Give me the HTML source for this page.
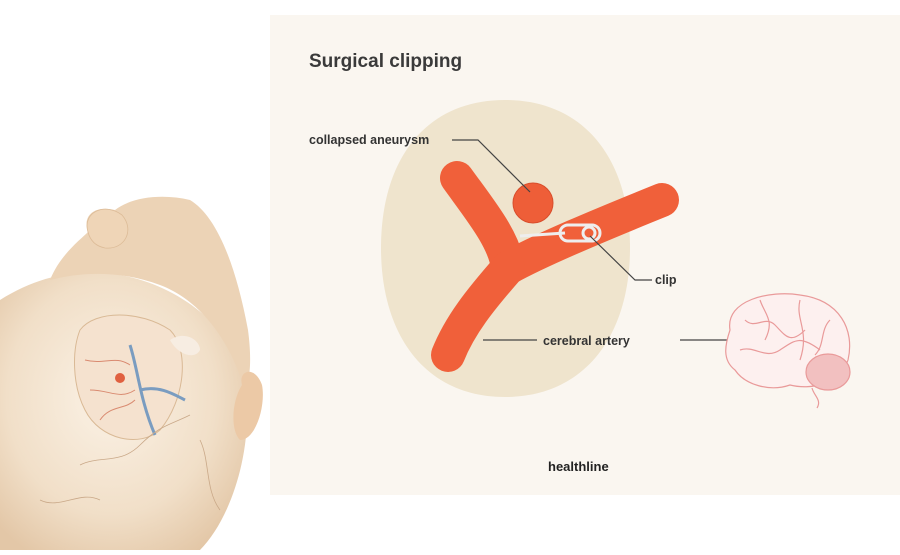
<!DOCTYPE html>
<html><head><style>
body{margin:0;width:900px;height:550px;background:#fff;overflow:hidden;font-family:"Liberation Sans",sans-serif}
</style></head><body>
<svg width="900" height="550" viewBox="0 0 900 550" xmlns="http://www.w3.org/2000/svg">
<defs>
<radialGradient id="sk" cx="0.45" cy="0.45" r="0.65"><stop offset="0" stop-color="#fbf2e6"/><stop offset="0.65" stop-color="#f1dfc8"/><stop offset="1" stop-color="#e3c7a7"/></radialGradient>
</defs>
<rect x="270" y="15" width="630" height="480" fill="#faf6f0"/>
<text x="309" y="67" font-size="19" font-weight="bold" fill="#3a3a3a">Surgical clipping</text>
<path d="M505 100 C585 100 630 160 630 248 C630 335 585 397 505 397 C425 397 381 335 381 248 C381 160 425 100 505 100Z" fill="#efe4cd"/>
<g stroke="#f0603a" stroke-width="34" stroke-linecap="round" fill="none">
<path d="M457 178 C480 210 505 240 508 268"/>
<path d="M662 200 C600 225 540 250 508 268"/>
<path d="M508 268 C480 300 460 325 448 355"/>
</g>
<circle cx="533" cy="203" r="20" fill="#ee5e38" stroke="#d84e2c" stroke-width="1"/>
<g stroke="#eee" stroke-width="3" fill="none">
<line x1="520" y1="236" x2="565" y2="233"/>
<rect x="560" y="225" width="40" height="16" rx="8"/>
<circle cx="589" cy="233" r="6"/>
</g>
<g stroke="#444" stroke-width="1.2" fill="none">
<polyline points="452,140 478,140 530,192"/>
<polyline points="590,236 635,280 652,280"/>
<line x1="483" y1="340" x2="537" y2="340"/>
<line x1="680" y1="340" x2="760" y2="340"/>
</g>
<g font-size="12.5" font-weight="bold" fill="#333">
<text x="309" y="144">collapsed aneurysm</text>
<text x="655" y="284">clip</text>
<text x="543" y="345">cerebral artery</text>
</g>
<text x="548" y="471" font-size="13" font-weight="bold" fill="#222">healthline</text>
<g fill="none" stroke="#e99a9a" stroke-width="1.2">
<path d="M730 330 C725 300 770 290 800 295 C840 300 855 330 848 360 C840 385 810 390 790 385 C770 392 745 385 735 370 C722 360 725 345 730 330Z" fill="#fdf0ef"/>
<path d="M745 320 c10 10 20-5 30 5 s15 20 30 5 M740 350 c15-5 25 10 40 0 s20-15 40 0 M760 300 c5 15 15 20 5 40 M800 300 c-5 20 10 30 0 60 M830 320 c-10 10-5 25-15 35"/>
<ellipse cx="828" cy="372" rx="22" ry="18" fill="#f2c0c0"/>
<path d="M812 388 c2 8 10 12 5 20"/>
</g>
<!-- head -->
<path d="M0 300 C40 275 80 268 120 275 C180 285 235 330 245 380 C255 450 230 520 200 550 L0 550Z" fill="url(#sk)"/>
<path d="M50 280 C60 255 80 240 88 232 C82 215 95 205 115 210 C130 198 160 193 190 200 C215 215 235 260 248 330 C252 360 250 380 245 390 C230 340 200 300 160 285 C120 270 80 272 50 280Z" fill="#ecd3b6"/>
<path d="M88 232 C82 212 105 202 122 215 C135 230 125 250 105 248 C95 246 90 240 88 232Z" fill="#efd5b7" stroke="#dcbb97" stroke-width="0.8"/>
<path d="M242 385 C238 370 255 365 262 385 C266 405 256 440 240 440 C230 430 232 400 242 385Z" fill="#ecc9a6"/>
<path d="M80 330 C95 310 140 310 170 330 C190 350 185 400 160 430 C140 448 100 440 85 410 C72 385 72 350 80 330Z" fill="#f5e2cf" stroke="#d9b995"/>
<g stroke="#7a9cc0" stroke-width="3" fill="none"><path d="M130 345 C138 370 140 400 155 435"/><path d="M140 390 C160 385 175 395 185 400"/></g>
<g stroke="#d98a70" stroke-width="1" fill="none"><path d="M85 360 c20 5 30-5 45 5 M90 390 c20 0 30 10 45 0 M100 420 c10-15 25-10 35-20"/></g>
<circle cx="120" cy="378" r="5" fill="#e06040"/>
<path d="M170 340 C185 330 200 340 200 350 C195 360 178 355 170 340Z" fill="#f7ede2"/>
<g stroke="#c9a888" stroke-width="0.8" fill="none"><path d="M80 465 c20-10 40 0 60-20 s30-20 50-30 M40 500 c20 10 40-10 60 0 M200 440 c10 20 5 50 20 70"/></g>
</svg>
</body></html>
